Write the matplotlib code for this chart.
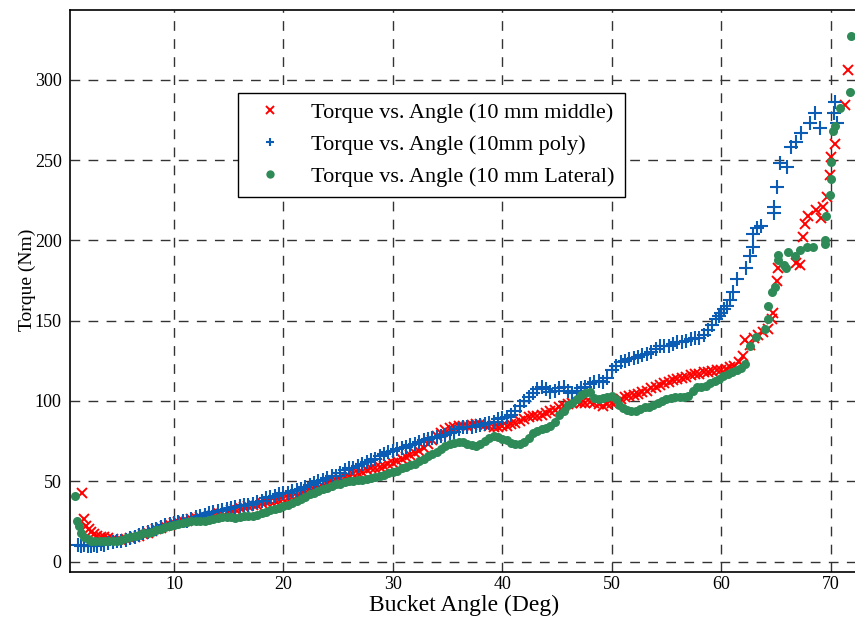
import matplotlib
matplotlib.use('Agg')
import matplotlib.pyplot as plt

# Torque readings for each test configuration (angle in deg, torque in Nm)
middle_angle = [1.6, 1.8, 2.0, 2.2, 2.4, 2.7, 3.0, 3.3, 3.6, 4.0, 4.4, 4.8, 5.2, 5.6, 6.0, 6.4, 6.8, 7.2,
                7.6, 8.0, 8.4, 8.8, 9.2, 9.6, 10.0, 10.4, 10.8, 11.2, 11.6, 12.0, 12.4, 12.8, 13.2, 13.6,
                14.0, 14.4, 14.8, 15.2, 15.6, 16.0, 16.4, 16.8, 17.2, 17.6, 18.0, 18.4, 18.8, 19.2, 19.6,
                20.0, 20.4, 20.8, 21.2, 21.6, 22.0, 22.4, 22.8, 23.2, 23.6, 24.0, 24.4, 24.8, 25.2, 25.6,
                26.0, 26.4, 26.8, 27.2, 27.6, 28.0, 28.4, 28.8, 29.2, 29.6, 30.0, 30.4, 30.8, 31.2, 31.6,
                32.0, 32.4, 32.8, 33.2, 33.6, 34.0, 34.4, 34.8, 35.2, 35.6, 36.0, 36.4, 36.8, 37.2, 37.6,
                38.0, 38.4, 38.8, 39.2, 39.6, 40.0, 40.4, 40.8, 41.2, 41.6, 42.0, 42.4, 42.8, 43.2, 43.6,
                44.0, 44.4, 44.8, 45.2, 45.6, 46.0, 46.4, 46.8, 47.2, 47.6, 48.0, 48.4, 48.8, 49.2, 49.6,
                50.0, 50.4, 50.8, 51.2, 51.6, 52.0, 52.4, 52.8, 53.2, 53.6, 54.0, 54.4, 54.8, 55.2, 55.6,
                56.0, 56.4, 56.8, 57.2, 57.6, 58.0, 58.4, 58.8, 59.2, 59.6, 60.0, 60.4, 60.8, 61.2, 61.6,
                62.0, 62.2, 62.6, 63.0, 63.4, 63.8, 64.3, 64.6, 64.7, 65.1, 65.2, 66.8, 67.2, 67.5, 67.7,
                67.9, 68.7, 69.1, 69.3, 69.7, 69.9, 70.0, 70.4, 71.3, 71.6]
middle_torque = [43, 26.5, 22, 20, 18.5, 17, 16, 15.5, 15, 14.5, 14, 13.5, 13.5, 14, 14.5, 15, 16, 17,
                 18, 19, 20, 21, 22, 23, 24, 24.5, 25, 25.5, 26.5, 27, 27.5, 28, 28.5, 29,
                 30, 30.5, 31, 32, 33, 33.5, 34, 34.5, 35, 35.5, 36.5, 37, 37.5, 38, 38.5,
                 39, 39.5, 40.5, 41, 42, 43, 44, 45, 46, 47, 48, 49.5, 50.5, 51.5, 52.5,
                 53.5, 54.5, 55, 56, 57, 58, 58.5, 59, 59.5, 60.5, 61.5, 62.5, 64, 65, 66.5,
                 67.5, 69, 70.5, 73, 75.5, 78, 80, 82, 83, 84, 84.5, 84.5, 84.5, 85, 85.5,
                 85.5, 85, 84.5, 84, 84, 84.5, 84.5, 85.5, 86.5, 87.5, 89, 90, 90.5, 90.5, 91.5,
                 92.5, 93.5, 94.5, 96, 97, 98, 99, 99.5, 99, 99, 99.5, 99, 98, 97, 98,
                 99, 99.5, 101, 102.5, 103, 103.5, 104.5, 105.5, 106.5, 108, 109, 110, 111.5, 112, 113,
                 114, 114.5, 115, 116, 116.5, 117, 118, 118, 118.5, 119, 119.5, 120, 121, 122, 124,
                 128, 138, 135, 139, 141, 143, 145, 151, 155, 174.5, 183, 186, 185, 202, 210,
                 215, 219, 214, 221, 227, 241, 252, 260, 284.5, 306]

poly_angle = [1.2, 1.5, 1.8, 2.1, 2.4, 2.7, 3.0, 3.3, 3.6, 4.0, 4.4, 4.8, 5.2, 5.6, 6.0, 6.4, 6.8, 7.2,
              7.6, 8.0, 8.4, 8.8, 9.2, 9.6, 10.0, 10.4, 10.8, 11.2, 11.6, 12.0, 12.4, 12.8, 13.2, 13.6,
              14.0, 14.4, 14.8, 15.2, 15.6, 16.0, 16.4, 16.8, 17.2, 17.6, 18.0, 18.4, 18.8, 19.2, 19.6,
              20.0, 20.4, 20.8, 21.2, 21.6, 22.0, 22.4, 22.8, 23.2, 23.6, 24.0, 24.4, 24.8, 25.2, 25.6,
              26.0, 26.4, 26.8, 27.2, 27.6, 28.0, 28.4, 28.8, 29.2, 29.6, 30.0, 30.4, 30.8, 31.2, 31.6,
              32.0, 32.4, 32.8, 33.2, 33.6, 34.0, 34.4, 34.8, 35.2, 35.6, 36.0, 36.4, 36.8, 37.2, 37.6,
              38.0, 38.4, 38.8, 39.2, 39.6, 40.0, 40.4, 40.8, 41.2, 41.6, 42.0, 42.4, 42.8, 43.2, 43.6,
              44.0, 44.4, 44.8, 45.2, 45.6, 46.0, 46.4, 46.8, 47.2, 47.6, 48.0, 48.4, 48.8, 49.2, 49.6,
              50.0, 50.4, 50.8, 51.2, 51.6, 52.0, 52.4, 52.8, 53.2, 53.6, 54.0, 54.4, 54.8, 55.2, 55.6,
              56.0, 56.4, 56.8, 57.2, 57.6, 58.0, 58.4, 58.8, 59.2, 59.5, 59.8, 60.0, 60.3, 60.5, 60.8,
              61.1, 61.4, 62.3, 62.6, 62.9, 62.9, 63.3, 63.6, 64.8, 64.8, 65.1, 65.4, 66.0, 66.4, 66.8,
              67.3, 68.1, 68.6, 69.0, 70.3, 70.4, 70.6]
poly_torque = [10.5, 10, 10.5, 9.5, 10, 10.5, 10, 11, 10.5, 11.5, 12, 12.5, 13, 13.5, 14.5, 15.5, 16.5, 17.5,
               18.5, 19.5, 20.5, 21.5, 22.5, 23.5, 24, 24.5, 25, 25.5, 26.5, 27.5, 28.5, 29, 30, 31,
               31.5, 32, 32.5, 33.5, 34, 34.5, 35, 35.5, 36, 37, 38, 39.5, 40.5, 41, 42,
               42.5, 43, 44, 44.5, 45.5, 46.5, 47.5, 49, 50, 51, 52, 53, 53.5, 55, 57,
               58, 58.5, 59.5, 60.5, 62, 63, 64, 65.5, 67, 68, 69, 70, 70.5, 71.5, 72.5,
               73.5, 74.5, 75.5, 76.5, 77, 77.5, 78, 79, 80, 81, 82.5, 83.5, 84, 84, 84.5,
               85, 85.5, 86, 87, 88.5, 89.5, 90, 91.5, 94, 97, 100, 102.5, 105, 107.5, 109,
               107.5, 105.5, 106.5, 108, 108.5, 106, 105, 106.5, 108, 109, 110.5, 112, 112.5, 112, 114.5,
               119, 122, 124, 125, 126, 126.5, 127.5, 128.5, 129.5, 130.5, 132.5, 134, 134, 134.5, 135.5,
               136.5, 137, 137.5, 138.5, 139, 139.5, 141, 144, 147.5, 151, 153, 155, 157, 159, 163,
               168, 176, 183, 190, 196, 204, 208, 209, 217, 221, 233, 248, 246, 258, 261,
               267, 273, 279.5, 270, 279.5, 286, 273]

lateral_angle = [1.0, 1.15, 1.3, 1.5, 1.8, 2.1, 2.4, 2.8, 3.2, 3.6, 4.0, 4.4, 4.8, 5.2, 5.6, 6.0, 6.4, 6.8,
                 7.2, 7.6, 8.0, 8.4, 8.8, 9.2, 9.6, 10.0, 10.4, 10.8, 11.2, 11.6, 12.0, 12.4, 12.8, 13.2,
                 13.6, 14.0, 14.4, 14.8, 15.2, 15.6, 16.0, 16.4, 16.8, 17.2, 17.6, 18.0, 18.4, 18.8, 19.2,
                 19.6, 20.0, 20.4, 20.8, 21.2, 21.6, 22.0, 22.4, 22.8, 23.2, 23.6, 24.0, 24.4, 24.8, 25.2,
                 25.6, 26.0, 26.4, 26.8, 27.2, 27.6, 28.0, 28.4, 28.8, 29.2, 29.6, 30.0, 30.4, 30.8, 31.2,
                 31.6, 32.0, 32.4, 32.8, 33.2, 33.6, 34.0, 34.4, 34.8, 35.2, 35.6, 36.0, 36.4, 36.8, 37.2,
                 37.6, 38.0, 38.4, 38.8, 39.2, 39.6, 40.0, 40.4, 40.8, 41.2, 41.6, 42.0, 42.4, 42.8, 43.2,
                 43.6, 44.0, 44.4, 44.8, 45.2, 45.6, 46.0, 46.4, 46.8, 47.2, 47.6, 48.0, 48.4, 48.8, 49.2,
                 49.6, 50.0, 50.4, 50.7, 51.0, 51.4, 51.8, 52.2, 52.6, 53.0, 53.4, 53.8, 54.2, 54.6, 55.0,
                 55.4, 55.8, 56.2, 56.6, 57.0, 57.4, 57.8, 58.2, 58.6, 59.0, 59.4, 59.8, 60.2, 60.6, 61.0,
                 61.4, 61.8, 62.2, 62.6, 63.2, 64.0, 64.3, 64.3, 64.6, 64.9, 65.2, 65.2, 65.7, 65.9, 66.1,
                 66.7, 67.2, 67.8, 68.4, 69.5, 69.5, 69.6, 69.9, 70.0, 70.0, 70.2, 70.4, 70.9, 71.8, 71.9]
lateral_torque = [41, 25, 22, 18, 15, 14, 13, 12.5, 12.5, 12.5, 12.5, 13, 13, 13.5, 14.5, 15.5, 16, 16.5,
                  17.5, 18, 18.5, 19.5, 20.5, 21.5, 22, 23, 23.5, 24, 24.5, 25, 25, 25.5, 25.5, 26,
                  26.5, 27, 27.5, 27.5, 28, 27, 28, 28.5, 28.5, 28.5, 29, 30, 31, 32, 33,
                  33.5, 34.5, 35.5, 36.5, 37.5, 39, 40.5, 42, 43, 44, 45, 46, 47, 48, 48.5,
                  49.5, 50, 50, 50.5, 51, 51.5, 52, 52.5, 53, 54, 55, 55.5, 56.5, 58, 59,
                  60, 61, 62.5, 64, 65.5, 67, 68.5, 70, 72, 73, 74, 74.5, 74.5, 73.5, 72.5,
                  72, 73, 75, 77, 78, 77.5, 76.5, 75.5, 74, 73, 73.5, 74.5, 77, 80, 81.5,
                  82.5, 83, 84.5, 87, 91, 94, 97.5, 99, 101.5, 103.5, 105, 105.5, 102, 101, 102,
                  102.5, 103, 101, 97.5, 95.5, 94.5, 94, 94, 95, 96, 96.5, 97.5, 98.5, 100, 101,
                  102, 102.5, 102.5, 102.5, 103, 106, 108.5, 109, 109.5, 111, 112.5, 114, 115.5, 117, 118,
                  119, 120.5, 123, 134, 140, 145, 151, 159, 168, 171, 188, 191, 185, 183, 192.5,
                  190, 194, 196, 196, 197.5, 200.5, 215, 228.5, 238, 249, 268, 271, 282.5, 292.5, 327]

plt.rcParams['font.family'] = ['Liberation Serif', 'DejaVu Serif']

fig = plt.figure(figsize=(8.55, 6.3), dpi=100)
ax = fig.add_axes([70 / 855, 58 / 630, 788 / 855, 562 / 630])

ax.plot(middle_angle, middle_torque, 'x', color='#ff0000', markersize=6.5, markeredgewidth=1.4,
        label='Torque vs. Angle (10 mm middle)')
ax.plot(poly_angle, poly_torque, '+', color='#0a5cb4', markersize=10, markeredgewidth=1.5,
        label='Torque vs. Angle (10mm poly)')
ax.plot(lateral_angle, lateral_torque, 'o', color='#2e8b57', markersize=6.5, markeredgewidth=0,
        label='Torque vs. Angle (10 mm Lateral)')

ax.set_xlim(0.5, 72.5)
ax.set_ylim(-6.5, 343.5)
ax.set_xticks([10, 20, 30, 40, 50, 60, 70])
ax.set_yticks([0, 50, 100, 150, 200, 250, 300])
ax.tick_params(direction='in', labelsize=13, length=0)
ax.tick_params(axis='x', pad=3)
ax.tick_params(axis='y', pad=6)
ax.grid(True, color='0.2', linestyle=(0, (7, 6)), linewidth=1.0)
ax.set_axisbelow(True)
for s in ax.spines.values():
    s.set_linewidth(1.2)

ax.set_xlabel('Bucket Angle (Deg)', fontsize=17, labelpad=1)
ax.set_ylabel('Torque (Nm)', fontsize=14)
ax.yaxis.set_label_coords(-0.043, 0.52)

leg = ax.legend(loc='upper left', bbox_to_anchor=(0.213, 0.853), fontsize=16,
                numpoints=1, fancybox=False, framealpha=1, edgecolor='black',
                borderpad=0.45, labelspacing=0.5, handletextpad=0.85, handlelength=2.0,
                borderaxespad=0)
leg.get_frame().set_linewidth(1.0)
for h in leg.legend_handles:
    h.set_markersize(6)

fig.savefig('out.png', dpi=100)
